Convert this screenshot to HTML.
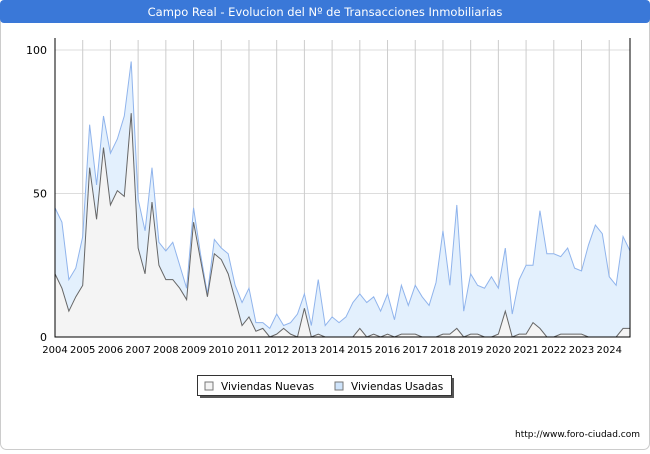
<!DOCTYPE html>
<html><head><meta charset="utf-8"><style>
body{margin:0;width:650px;height:450px;background:#fff;font-family:"DejaVu Sans","Liberation Sans",sans-serif;overflow:hidden}
</style></head><body>
<svg width="650" height="450" font-family="DejaVu Sans, Liberation Sans, sans-serif">
<rect x="0.5" y="0.5" width="649" height="449" rx="6" fill="#fff" stroke="#ccc"/>
<rect x="0" y="0" width="650" height="23" rx="4" fill="#3a78d8"/>
<text x="325" y="16" text-anchor="middle" font-size="11.5" fill="#fff">Campo Real - Evolucion del Nº de Transacciones Inmobiliarias</text>
<g id="grid"></g>
<g id="areas"></g>
<g id="axes"></g>
<g>
<rect x="200" y="378" width="254" height="20" fill="#555"/>
<rect x="197.5" y="375.5" width="254" height="20" fill="#fff" stroke="#333" stroke-width="1"/>
<rect x="205" y="382" width="8" height="8" fill="#f4f4f4" stroke="#777"/>
<text x="221" y="390" font-size="10.5" fill="#000">Viviendas Nuevas</text>
<rect x="335" y="382" width="8" height="8" fill="#cfe4fb" stroke="#777"/>
<text x="351" y="390" font-size="10.5" fill="#000">Viviendas Usadas</text>
</g>
<text x="640" y="437" text-anchor="end" font-size="9" fill="#000">http://www.foro-ciudad.com</text>
</svg>
<script>
const years=["2004","2005","2006","2007","2008","2009","2010","2011","2012","2013","2014","2015","2016","2017","2018","2019","2020","2021","2022","2023","2024"];
const yTicks=[0,50,100];
const usadas=[45,40,20,24,35,74,53,77,64,69,77,96,48,37,59,33,30,33,25,17,45,29,15,34,31,29,18,12,17,5,5,3,8,4,5,8,15,4,20,4,7,5,7,12,15,12,14,9,15,6,18,11,18,14,11,19,37,18,46,9,22,18,17,21,17,31,8,20,25,25,44,29,29,28,31,24,23,32,39,36,21,18,35,30];
const nuevas=[22,17,9,14,18,59,41,66,46,51,49,78,31,22,47,25,20,20,17,13,40,27,14,29,27,22,13,4,7,2,3,0,1,3,1,0,10,0,1,0,0,0,0,0,3,0,1,0,1,0,1,1,1,0,0,0,1,1,3,0,1,1,0,0,1,9,0,1,1,5,3,0,0,1,1,1,1,0,0,0,0,0,3,3];
const NS="http://www.w3.org/2000/svg";
const x0=55,x1=630,y0=337,y1=50,n=usadas.length;
const xs=i=>x0+(x1-x0)*i/(n-1);
const ys=v=>y0-(y0-y1)*v/100;
function mk(t,a,p){const e=document.createElementNS(NS,t);for(const k in a)e.setAttribute(k,a[k]);p.appendChild(e);return e;}
const grid=document.getElementById('grid'),areas=document.getElementById('areas'),axes=document.getElementById('axes');
yTicks.forEach(v=>{
 const l=mk('line',{x1:x0,x2:x1,y1:ys(v),y2:ys(v),stroke:'#ddd'},grid);
 
 
 const t=mk('text',{x:x0-8,y:ys(v)+4,'text-anchor':'end','font-size':11,fill:'#000'},axes);
 t.textContent=v;
 
 
});
years.forEach((y,k)=>{
 const x=xs(k*4);
 const l=mk('line',{x1:x,x2:x,y1:y1-10,y2:y0,stroke:'#ccc'},grid);
 
 
 const t=mk('text',{x:x,y:y0+16,'text-anchor':'middle','font-size':10,fill:'#000'},axes);
 t.textContent=y;
 
 
});
function area(vals,fill,stroke,name){
 let d='M'+xs(0)+','+y0;
 vals.forEach((v,i)=>d+=' L'+xs(i).toFixed(2)+','+ys(v).toFixed(2));
 d+=' L'+xs(n-1)+','+y0+' Z';
 const a=mk('path',{d:d,fill:fill,stroke:'none'},areas);
 
 
 const l=mk('polyline',{points:vals.map((v,i)=>xs(i).toFixed(2)+','+ys(v).toFixed(2)).join(' '),fill:'none',stroke:stroke,'stroke-width':1},areas);
 
 
}
area(usadas,'#e3f0fd','#90b4ec','usadas');
area(nuevas,'#f4f4f4','#666','nuevas');
const ax=mk('path',{d:`M${x0},${y1-12} L${x0},${y0} L${x1},${y0} L${x1},${y1-12}`,fill:'none',stroke:'#000','stroke-width':1},axes);


</script>
</body></html>
